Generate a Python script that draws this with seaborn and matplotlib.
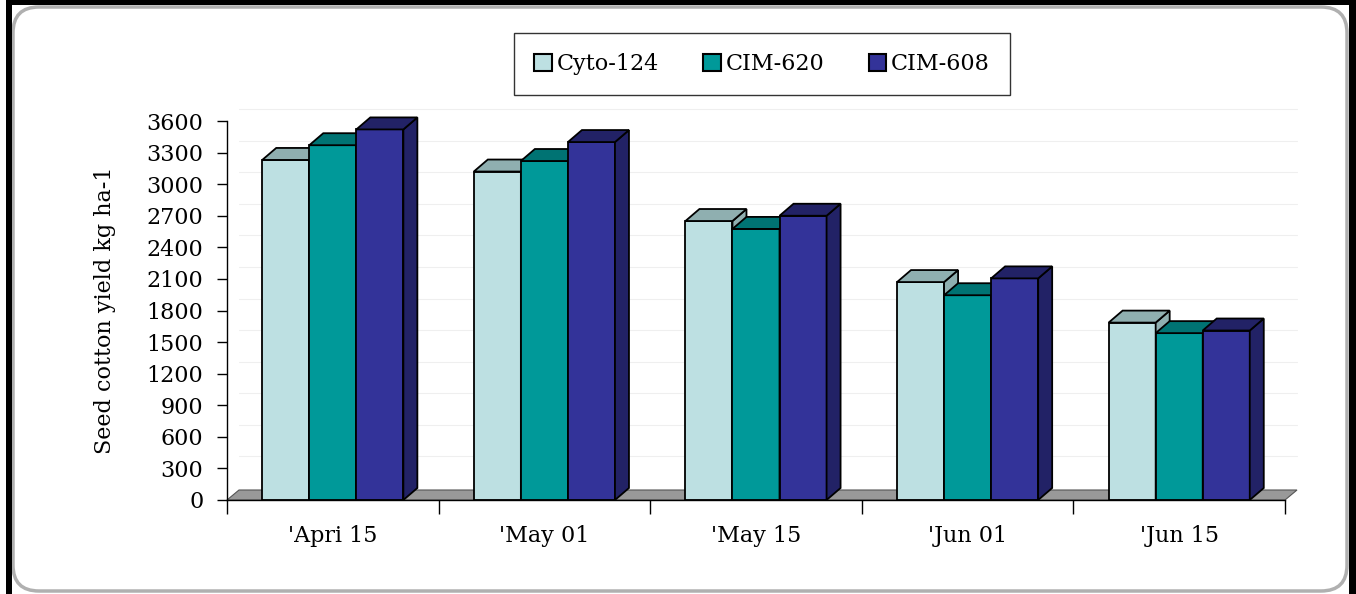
import pandas as pd
import numpy as np
import matplotlib
matplotlib.use('Agg')
import matplotlib.pyplot as plt
from matplotlib.patches import Polygon, FancyBboxPatch, Rectangle, Patch
from matplotlib.transforms import IdentityTransform
import seaborn as sns

# values
dates = ["'Apri 15", "'May 01", "'May 15", "'Jun 01", "'Jun 15"]
varieties = ["Cyto-124", "CIM-620", "CIM-608"]
cyto_124 = [3230, 3120, 2650, 2070, 1685]
cim_620 = [3370, 3220, 2575, 1945, 1585]
cim_608 = [3520, 3400, 2700, 2105, 1610]
yticks = list(range(0, 3601, 300))

front_cols = ["#BDE0E2", "#009999", "#333399"]
depth_cols = ["#8FAFB0", "#007373", "#222266"]

df = pd.DataFrame({
    "date": dates * 3,
    "variety": [v for v in varieties for _ in dates],
    "yield": cyto_124 + cim_620 + cim_608,
})

sns.set_style("white")
plt.rcParams['font.family'] = ['DejaVu Serif']
plt.rcParams['text.color'] = 'black'
plt.rcParams['axes.labelcolor'] = 'black'
plt.rcParams['xtick.color'] = 'black'
plt.rcParams['ytick.color'] = 'black'

W, H = 1356, 594
fig = plt.figure(figsize=(W / 100, H / 100), dpi=100)
ax = fig.add_axes([227 / W, 1 - 500 / H, (1285 - 227) / W, (500 - 121) / H])

sns.barplot(data=df, x="date", y="yield", hue="variety", palette=front_cols,
            saturation=1, width=0.667, edgecolor="black", linewidth=1.3,
            ax=ax, legend=False)
ax.set_xlim(-0.5, 4.5)
ax.set_ylim(0, 3600)

# pseudo-3D depth, in data units
dx = 14 / ((1285 - 227) / 5)
dy = 12 * 3600 / 379
fdx, fdy = 12 / ((1285 - 227) / 5), 10 * 3600 / 379

# back wall grid lines
for t in yticks[1:]:
    ax.plot([-0.5 + fdx, 4.5 + fdx], [t + dy, t + dy], color="#efefef",
            lw=0.8, zorder=0.5, clip_on=False)

# floor
floor = Polygon([(-0.5, 0), (-0.5 + fdx, fdy), (4.5 + fdx, fdy), (4.5, 0)],
                closed=True, facecolor="#999999", edgecolor="#555555",
                lw=0.8, zorder=1, clip_on=False)
ax.add_patch(floor)

for i, cont in enumerate(ax.containers):
    for bar in cont:
        bar.set_zorder(3 + i)
        x0, w, h = bar.get_x(), bar.get_width(), bar.get_height()
        top = Polygon([(x0, h), (x0 + dx, h + dy), (x0 + w + dx, h + dy), (x0 + w, h)],
                      closed=True, facecolor=depth_cols[i], edgecolor="black",
                      lw=1.3, zorder=3 + i, clip_on=False)
        side = Polygon([(x0 + w, 0), (x0 + w + dx, dy), (x0 + w + dx, h + dy), (x0 + w, h)],
                       closed=True, facecolor=depth_cols[i], edgecolor="black",
                       lw=1.3, zorder=3 + i, clip_on=False)
        ax.add_patch(side)
        ax.add_patch(top)

sns.despine(ax=ax, top=True, right=True)
for s in ["left", "bottom"]:
    ax.spines[s].set_color("black")
    ax.spines[s].set_linewidth(1.0)
    ax.spines[s].set_zorder(10)

ax.set_yticks(yticks)
ax.set_yticklabels([str(t) for t in yticks], fontsize=16)
ax.tick_params(axis="y", which="major", direction="out", length=7, width=1,
               pad=10, left=True)
ax.set_xticks(range(len(dates)))
ax.set_xticklabels(dates, fontsize=16)
ax.set_xticks(np.arange(-0.5, 5, 1), minor=True)
ax.tick_params(axis="x", which="major", length=0, pad=18)
ax.tick_params(axis="x", which="minor", direction="out", length=10, width=1,
               bottom=True)
ax.set_xlabel("")
ax.set_ylabel("Seed cotton yield kg ha-1", fontsize=16, labelpad=22)
ax.grid(False)

handles = [Patch(facecolor=c, edgecolor="black", lw=1.5) for c in front_cols]
leg = fig.legend(handles, varieties, loc="center", ncol=3,
                 bbox_to_anchor=(762 / W, 1 - 64 / H), fontsize=16,
                 frameon=True, fancybox=False, edgecolor="black",
                 handlelength=0.8, handleheight=0.8, handletextpad=0.2,
                 columnspacing=2.0, borderpad=0.9, borderaxespad=0)
leg.get_frame().set_linewidth(1.0)

# outer frame, in pixels
fig.patches.append(FancyBboxPatch((13, 3), 1334, 584,
                                  boxstyle="round,pad=0,rounding_size=26",
                                  transform=IdentityTransform(), facecolor="none",
                                  edgecolor="#b0b0b0", lw=2.5))
fig.patches.append(Rectangle((6 / W, 0), 6 / W, 1, transform=fig.transFigure,
                             facecolor="black", edgecolor="none"))
fig.patches.append(Rectangle((1349 / W, 0), 7 / W, 1, transform=fig.transFigure,
                             facecolor="black", edgecolor="none"))
fig.patches.append(Rectangle((6 / W, 1 - 5 / H), 1 - 6 / W, 5 / H, transform=fig.transFigure,
                             facecolor="black", edgecolor="none"))

fig.savefig("out.png", dpi=100)
